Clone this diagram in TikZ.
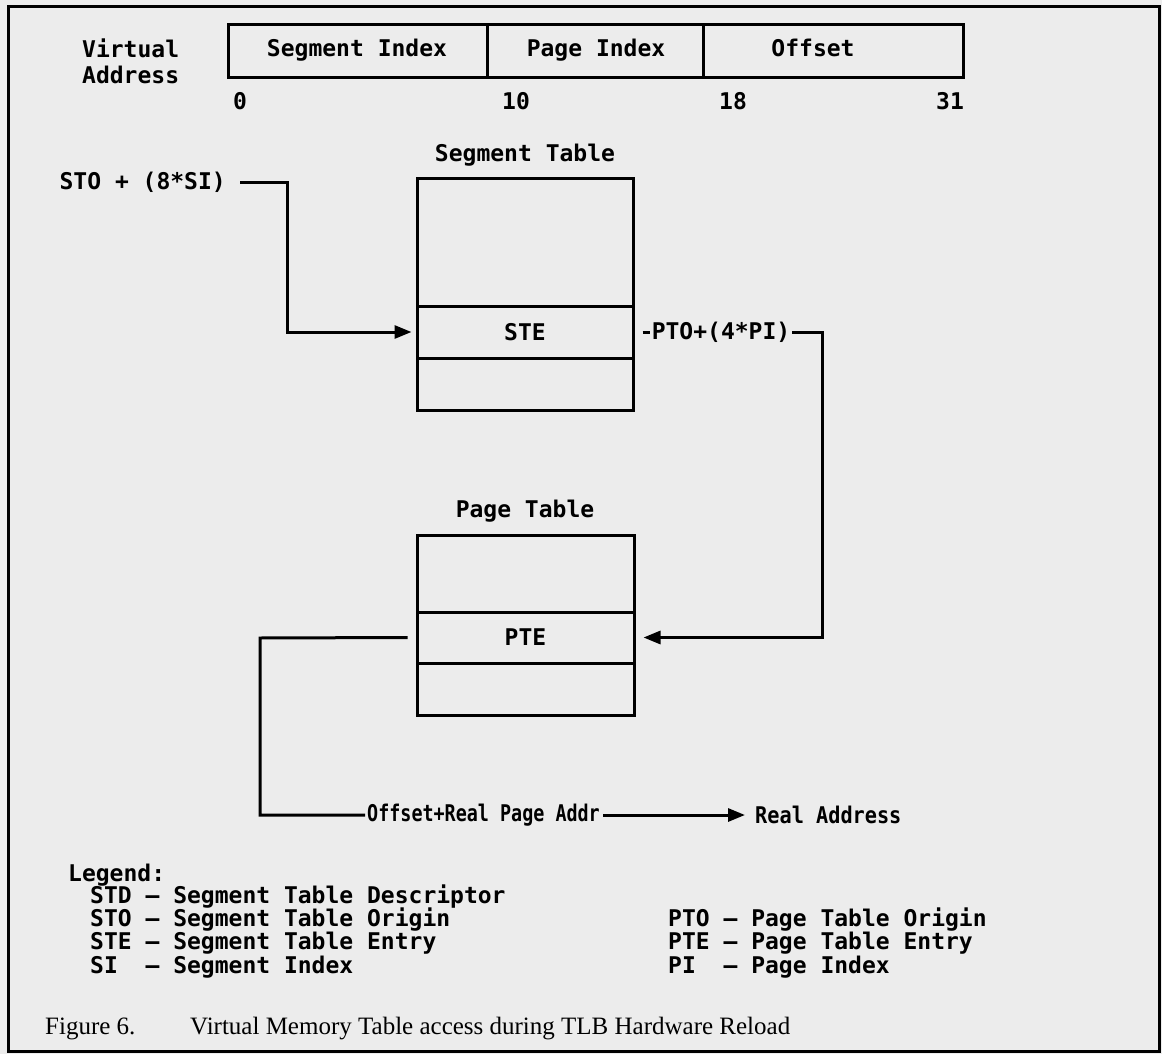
\documentclass[tikz,border=0pt]{standalone}
\usepackage{fontspec}
\usepackage{graphicx}
\setmainfont{Liberation Serif}
\newfontfamily\ibm{DejaVu Sans Mono}
\usetikzlibrary{arrows.meta}
\definecolor{paper}{RGB}{236,236,236}
\begin{document}
\begin{tikzpicture}[x=1pt,y=-1pt,
  txt/.style={font=\ibm\bfseries\fontsize{23}{23}\selectfont, inner sep=0pt},
  cell/.style={draw, line width=3pt, inner sep=0pt},
  wire/.style={line width=3pt},
  arr/.style={-{Triangle[length=17pt,width=13pt]}},
  captxt/.style={font=\fontsize{25}{25}\selectfont, inner sep=0pt, anchor=base west}]
\fill[paper] (0,0) rectangle (1162,1054);
\useasboundingbox (0,0) rectangle (1162,1054);
% frame
\draw[line width=3pt] (8,7) rectangle (1159,1051);

% virtual address
\node[txt, anchor=west] (va1) at (82,48) {Virtual};
\node[txt, anchor=west] (va2) at (82,75) {Address};
\node[cell, minimum width=259pt, minimum height=53pt] (si) at (357.5,51.5) {};
\node[cell, minimum width=216pt, minimum height=53pt] (pi) at (595,51.5) {};
\node[cell, minimum width=260pt, minimum height=53pt] (off) at (833,51.5) {};
\node[txt] (tsi) at (357,50) {Segment Index};
\node[txt] (tpi) at (596,50) {Page Index};
\node[txt] (toff) at (813,48) {Offset};
\node[txt] (n0) at (240,101) {0};
\node[txt] (n10) at (516,101) {10};
\node[txt] (n18) at (733,101) {18};
\node[txt] (n31) at (950,101) {31};

% segment table
\node[txt] (stt) at (525,155) {Segment Table};
\node[cell, minimum width=216pt, minimum height=232pt] (st) at (525,294) {};
\node[cell, minimum width=216pt, minimum height=52pt] (ste) at (525,332) {};
\node[txt] at (ste.center) {STE};

% page table
\node[txt] (ptt) at (525,511) {Page Table};
\node[cell, minimum width=217pt, minimum height=180pt] (pt) at (525.5,625) {};
\node[cell, minimum width=217pt, minimum height=51pt] (pte) at (525.5,637.5) {};
\node[txt] at (pte.center) {PTE};

% STO connector
\node[txt, anchor=east] (sto) at (226,182) {STO + (8*SI)};
\coordinate (c1) at (287,182);
\draw[wire, arr, shorten >=4pt] (sto.east) ++(14,0) -- (c1) |- (ste.west);

% PTO connector
\node[txt] (pto) at (721,332) {PTO+(4*PI)};
\coordinate (c2) at (822,332);
\draw[wire] ([xshift=8pt]ste.east) -- ([xshift=-2pt]pto.west);
\draw[wire, arr, shorten >=8pt] ([xshift=2pt]pto.east) -- (c2) |- (pte.east);

% PTE output
\node[txt, anchor=west] (ora) at (367,815) {\scalebox{0.8}[1]{Offset+Real Page Addr}};
\node[txt, anchor=west] (ra) at (755,815) {\scalebox{0.88}[1]{Real Address}};
\coordinate (c3) at (260,638);
\draw[wire] ([xshift=-8pt]pte.west) -- (c3) |- ([xshift=-2pt]ora.west);
\draw[wire, arr] ([xshift=3pt]ora.east) -- ([xshift=-10pt]ra.west);

% legend
\node[txt, anchor=west] (lg) at (68,875) {Legend:};
\node[txt, anchor=west] (l1) at (90,897) {STD – Segment Table Descriptor};
\node[txt, anchor=west] (l2) at (90,920) {STO – Segment Table Origin};
\node[txt, anchor=west] (l3) at (90,943) {STE – Segment Table Entry};
\node[txt, anchor=west] (l4) at (90,967) {SI\ \ – Segment Index};
\node[txt, anchor=west] (r2) at (668,920) {PTO – Page Table Origin};
\node[txt, anchor=west] (r3) at (668,943) {PTE – Page Table Entry};
\node[txt, anchor=west] (r4) at (668,967) {PI\ \ – Page Index};

% caption
\node[captxt] (f6) at (45,1034) {Figure 6.};
\node[captxt] (ft) at (190,1034) {Virtual Memory Table access during TLB Hardware Reload};
\end{tikzpicture}
\end{document}
